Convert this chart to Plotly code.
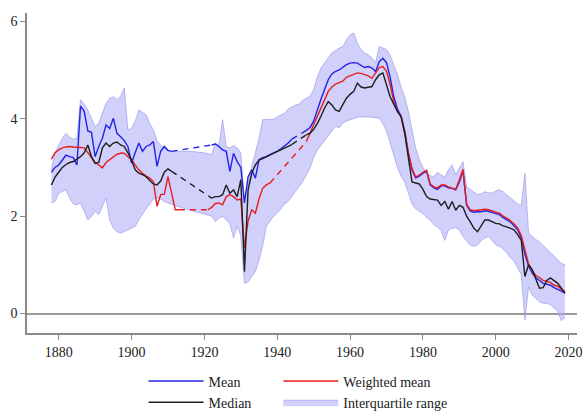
import plotly.graph_objects as go

# ---------------- data ----------------
mean_years = list(range(1878, 1912)) + list(range(1922, 1945)) + list(range(1948, 2020))
mean_vals = [2.90, 3.00, 3.05, 3.15, 3.25, 3.22, 3.20, 3.05, 4.26, 4.15, 3.75, 3.72, 3.22, 3.43, 3.60, 3.87,
             3.80, 4.01, 3.70, 3.63, 3.55, 3.43, 3.09, 3.30, 3.50, 3.33, 3.43, 3.46, 3.53, 3.02, 3.33, 3.43,
             3.35, 3.33,
             3.46, 3.48, 3.43, 3.36, 3.33, 2.92, 3.29, 3.12, 3.00, 2.27, 2.81, 2.95, 2.78, 3.16, 3.20, 3.22,
             3.26, 3.29, 3.33, 3.38, 3.44, 3.50, 3.58,
             3.76, 3.82, 3.95, 4.20, 4.40, 4.60, 4.80, 4.92, 4.97, 5.00, 5.05, 5.11, 5.14, 5.15, 5.14, 5.10,
             5.05, 5.07, 5.04, 4.97, 5.17, 5.24, 5.15, 4.85, 4.45, 4.20, 4.05, 3.75, 3.30, 2.95, 2.78, 2.82,
             2.88, 2.92, 2.64, 2.58, 2.55, 2.62, 2.62, 2.58, 2.57, 2.54, 2.70, 2.93, 2.22, 2.10, 2.08, 2.09,
             2.09, 2.11, 2.10, 2.07, 2.05, 2.03, 1.97, 1.93, 1.88, 1.80, 1.72, 1.55, 1.22, 0.97, 0.83, 0.74,
             0.68, 0.62, 0.60, 0.58, 0.53, 0.50, 0.46, 0.42]
mean_gaps = [(1911, 1922), (1944, 1948)]

median_years = list(range(1878, 1912)) + list(range(1922, 1945)) + list(range(1948, 2020))
median_vals = [2.64, 2.80, 2.90, 3.00, 3.06, 3.10, 3.12, 3.17, 3.22, 3.30, 3.46, 3.22, 3.08, 3.10, 3.40, 3.50,
               3.43, 3.50, 3.52, 3.46, 3.43, 3.30, 3.15, 2.95, 2.88, 2.85, 2.81, 2.73, 2.66, 2.64, 2.72, 2.90,
               2.97, 2.92,
               2.37, 2.40, 2.40, 2.44, 2.64, 2.47, 2.54, 2.40, 2.75, 0.86, 2.54, 2.88, 3.05, 3.15, 3.18, 3.22,
               3.25, 3.30, 3.33, 3.36, 3.40, 3.44, 3.47,
               3.67, 3.70, 3.78, 3.90, 4.05, 4.22, 4.35, 4.28, 4.18, 4.15, 4.29, 4.42, 4.50, 4.56, 4.73, 4.65,
               4.63, 4.64, 4.66, 4.80, 4.90, 4.94, 4.70, 4.45, 4.30, 4.15, 4.05, 3.70, 3.20, 2.70, 2.68, 2.66,
               2.55, 2.40, 2.35, 2.34, 2.33, 2.22, 2.30, 2.14, 2.30, 2.12, 2.22, 2.18, 2.00, 1.88, 1.75, 1.68,
               1.80, 1.92, 1.92, 1.88, 1.85, 1.84, 1.80, 1.78, 1.75, 1.72, 1.62, 1.50, 0.76, 1.00, 0.90, 0.70,
               0.52, 0.53, 0.68, 0.73, 0.68, 0.62, 0.52, 0.42]
median_gaps = [(1911, 1922), (1944, 1948)]

wmean_years = list(range(1878, 1914)) + list(range(1921, 1939)) + list(range(1948, 2020))
wmean_vals = [3.17, 3.30, 3.36, 3.40, 3.42, 3.43, 3.42, 3.42, 3.41, 3.40, 3.30, 3.20, 3.10, 3.05, 2.99, 3.10,
              3.16, 3.22, 3.27, 3.29, 3.29, 3.22, 3.16, 3.05, 2.95, 2.88, 2.82, 2.78, 2.71, 2.20, 2.44, 2.45,
              2.81, 2.47, 2.13, 2.13,
              2.13, 2.18, 2.26, 2.27, 2.23, 2.40, 2.44, 2.40, 2.33, 2.35, 1.35, 1.90, 2.13, 2.06, 2.35, 2.57,
              2.64, 2.68,
              3.53, 3.70, 3.87, 4.05, 4.22, 4.40, 4.56, 4.65, 4.71, 4.74, 4.77, 4.85, 4.88, 4.92, 4.94, 4.93,
              4.90, 4.88, 4.83, 4.95, 5.05, 5.07, 4.98, 4.70, 4.35, 4.15, 4.04, 3.72, 3.30, 2.98, 2.80, 2.84,
              2.90, 2.94, 2.66, 2.60, 2.58, 2.64, 2.64, 2.60, 2.58, 2.55, 2.74, 2.96, 2.24, 2.13, 2.11, 2.12,
              2.12, 2.14, 2.13, 2.10, 2.08, 2.06, 2.00, 1.96, 1.91, 1.84, 1.76, 1.60, 1.30, 1.02, 0.88, 0.78,
              0.74, 0.68, 0.66, 0.64, 0.58, 0.56, 0.50, 0.45]
wmean_gaps = [(1913, 1921), (1938, 1948)]

iqr_years = list(range(1878, 1912)) + [1916, 1920] + list(range(1922, 2020))
iqr_upper = [2.95, 3.30, 3.45, 3.60, 3.70, 3.62, 3.58, 3.60, 4.39, 4.30, 4.18, 4.00, 3.84, 3.90, 4.10, 4.32,
             4.42, 4.45, 4.39, 4.46, 4.63, 3.77, 3.80, 3.95, 4.18, 4.13, 4.08, 3.90, 3.77, 3.55, 3.46, 3.40,
             3.35, 3.33,
             3.33, 3.30,
             3.26, 3.50, 3.45, 3.98, 3.43, 3.40, 3.45, 3.40, 3.30, 2.33, 2.70, 3.02, 3.30, 3.60, 3.98, 3.98,
             3.98, 3.99, 4.04, 4.08, 4.11, 4.20, 4.24, 4.28, 4.30, 4.38, 4.42, 4.46, 4.60, 4.85, 5.04, 5.14,
             5.25, 5.35, 5.40, 5.45, 5.48, 5.62, 5.72, 5.76, 5.55, 5.42, 5.35, 5.31, 5.25, 5.15, 5.48, 5.45,
             5.42, 5.30, 5.10, 4.90, 4.65, 4.45, 4.15, 3.75, 3.40, 3.16, 3.00, 2.88, 2.83, 2.81, 2.90, 2.85,
             2.80, 2.95, 3.05, 2.85, 3.00, 3.12, 2.60, 2.55, 2.50, 2.44, 2.46, 2.50, 2.48, 2.47, 2.52, 2.54,
             2.50, 2.44, 2.38, 2.32, 2.25, 2.22, 2.88, 1.65, 1.58, 1.52, 1.47, 1.40, 1.33, 1.25, 1.17, 1.10,
             1.03, 1.00]
iqr_lower = [2.27, 2.30, 2.47, 2.50, 2.54, 2.37, 2.25, 2.23, 2.27, 2.10, 1.92, 1.99, 2.10, 2.03, 2.20, 2.37,
             1.92, 1.75, 1.68, 1.65, 1.68, 1.72, 1.76, 1.79, 1.92, 2.05, 2.15, 2.25, 2.35, 2.38, 2.35, 2.30,
             2.27, 2.24,
             2.12, 2.04,
             2.00, 1.89, 1.96, 1.99, 1.92, 1.85, 1.55, 1.79, 1.60, 0.62, 0.65, 0.75, 0.86, 1.10, 1.38, 1.79,
             1.90, 2.00, 2.06, 2.15, 2.25, 2.30, 2.40, 2.52, 2.61, 2.71, 2.85, 2.99, 3.20, 3.36, 3.45, 3.55,
             3.65, 3.75, 3.85, 3.81, 3.91, 3.95, 3.98, 4.00, 4.03, 4.04, 4.04, 4.04, 4.03, 4.02, 4.01, 3.90,
             3.75, 3.50, 3.25, 3.00, 2.82, 2.70, 2.48, 2.25, 2.15, 2.10, 2.05, 1.97, 1.92, 1.82, 1.78, 1.70,
             1.50, 1.72, 1.75, 1.76, 1.72, 1.58, 1.50, 1.40, 1.38, 1.41, 1.50, 1.55, 1.58, 1.50, 1.41, 1.38,
             1.33, 1.25, 1.15, 1.08, 0.95, 0.80, -0.13, 0.55, 0.38, 0.30, 0.24, 0.21, 0.21, 0.18, 0.12, 0.05,
             -0.15, -0.08]

x_ticks = [1880, 1900, 1920, 1940, 1960, 1980, 2000, 2020]
y_ticks = [0, 2, 4, 6]

# ---------------- styles ----------------
BLUE = "#2323e6"
RED = "#e61e1e"
BLACK = "#1e1e1e"
BAND = "rgba(170,170,245,0.55)"
BAND_EDGE = "rgba(150,150,235,0.8)"
FONT = "Liberation Serif, Times New Roman, DejaVu Serif, serif"


def with_gaps(years, vals, gaps):
    xs, ys = [], []
    for i, (yr, v) in enumerate(zip(years, vals)):
        if i > 0 and (years[i - 1], yr) in gaps:
            xs.append(None)
            ys.append(None)
        xs.append(yr)
        ys.append(v)
    return xs, ys


def dashed(years, vals, gaps):
    lookup = dict(zip(years, vals))
    xs, ys = [], []
    for a, b in gaps:
        xs += [a, b, None]
        ys += [lookup[a], lookup[b], None]
    return xs, ys


fig = go.Figure()

fig.add_trace(go.Scatter(x=iqr_years, y=iqr_lower, mode="lines",
                         line=dict(color=BAND_EDGE, width=0.8), showlegend=False,
                         hoverinfo="skip", legend="legend2"))
fig.add_trace(go.Scatter(x=iqr_years, y=iqr_upper, mode="lines", fill="tonexty",
                         fillcolor=BAND, line=dict(color=BAND_EDGE, width=0.8),
                         name="Interquartile range", legend="legend2", legendrank=4))

series = [
    ("Mean", mean_years, mean_vals, mean_gaps, BLUE, "legend", 1),
    ("Weighted mean", wmean_years, wmean_vals, wmean_gaps, RED, "legend2", 3),
    ("Median", median_years, median_vals, median_gaps, BLACK, "legend", 2),
]
for name, yrs, vals, gaps, col, lg, rank in series:
    dx, dy = dashed(yrs, vals, gaps)
    fig.add_trace(go.Scatter(x=dx, y=dy, mode="lines", line=dict(color=col, width=1.4, dash="6px,5px"),
                             showlegend=False, connectgaps=False, legend=lg))
for name, yrs, vals, gaps, col, lg, rank in series:
    sx, sy = with_gaps(yrs, vals, gaps)
    fig.add_trace(go.Scatter(x=sx, y=sy, mode="lines", line=dict(color=col, width=1.4),
                             name=name, connectgaps=False, legend=lg, legendrank=rank))

axis_common = dict(showgrid=False, showline=True, linecolor="#8a8a8a", linewidth=1.5,
                   ticks="outside", ticklen=5, tickcolor="#8a8a8a", tickwidth=1.2, automargin=False,
                   tickfont=dict(family=FONT, size=14, color="#222222"))

legend_common = dict(xref="paper", yref="container", xanchor="left", yanchor="top", orientation="v",
                     bgcolor="rgba(0,0,0,0)", tracegroupgap=0, traceorder="normal",
                     itemwidth=55, font=dict(family=FONT, size=14, color="#222222"))

fig.update_layout(
    width=583, height=412,
    margin=dict(l=27, r=6, t=13, b=79, autoexpand=False),
    paper_bgcolor="white", plot_bgcolor="white",
    font=dict(family=FONT, size=14, color="#222222"),
    xaxis=dict(range=[1871.3, 2022.3], tickvals=x_ticks, zeroline=False, **axis_common),
    yaxis=dict(range=[-0.40, 6.17], tickvals=y_ticks, zeroline=True, zerolinecolor="#9a9a9a",
               zerolinewidth=1.5, **axis_common),
    legend=dict(x=0.212, y=0.113, **legend_common),
    legend2=dict(x=0.457, y=0.113, **legend_common),
    showlegend=True,
)

fig.write_html("out.html")
